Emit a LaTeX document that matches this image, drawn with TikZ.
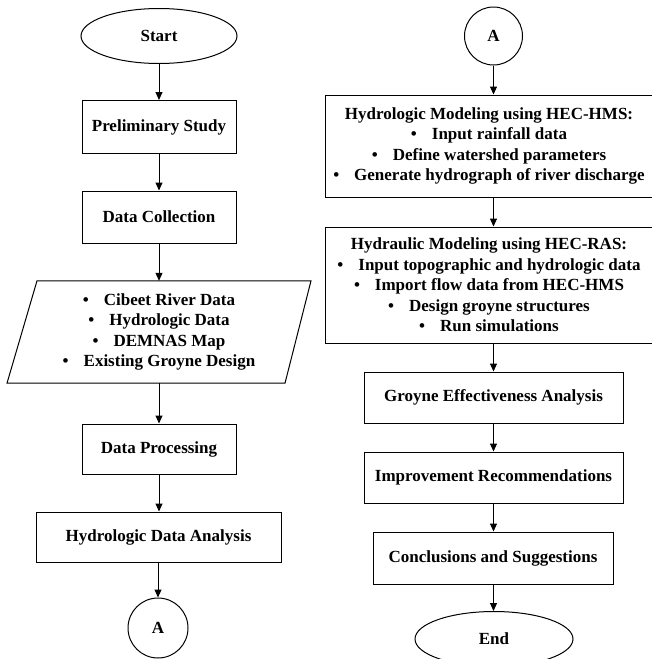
\documentclass[tikz,border=0pt]{standalone}
\usepackage{fontspec}
\setmainfont{Liberation Serif}
\usetikzlibrary{shapes.geometric,arrows.meta,calc}
\newcommand{\fcbul}{\textbullet\hspace{15pt}}
\begin{document}
\begin{tikzpicture}[x=1pt,y=-1pt,
  every node/.style={font=\fontsize{17}{20.5}\selectfont\bfseries, align=center, inner sep=0pt},
  box/.style={draw, line width=1pt, rectangle, minimum width=#1},
  box/.default=154pt,
  term/.style={draw, line width=1pt, ellipse, minimum width=156pt, minimum height=55pt},
  conn/.style={draw, line width=1pt, circle, minimum size=#1},
  arr/.style={line width=1pt, -{Triangle[length=8pt,width=7pt]}}]
\useasboundingbox (0,0) rectangle (652,659);
% left column
\node[term] (start) at (159,36) {Start};
\node[box, minimum height=53pt] (prelim) at (159,127) {Preliminary Study};
\node[box, minimum height=52pt] (coll) at (159,217) {Data Collection};
\node[minimum width=250pt, minimum height=102pt] (data) at (159,332)
  {\fcbul Cibeet River Data\\ \fcbul Hydrologic Data\\ \fcbul DEMNAS Map\\ \fcbul Existing Groyne Design};
\draw[line width=1pt] ($(data.north)+(-122pt,0)$) -- ($(data.north)+(152pt,0)$)
  -- ($(data.south)+(126pt,0)$) -- ($(data.south)+(-152pt,0)$) -- cycle;
\node[box, minimum height=50pt] (proc) at (159,449) {Data Processing};
\node[box=245pt, minimum height=50pt] (hda) at (158.5,537) {Hydrologic Data Analysis};
\node[conn=60pt] (a1) at (158,628) {A};
\draw[arr] (start) -- (prelim);
\draw[arr] (prelim) -- (coll);
\draw[arr] (coll) -- (data);
\draw[arr] (data) -- (proc);
\draw[arr] (proc) -- (hda.north -| proc);
\draw[arr] (hda.south -| a1) -- (a1);
% right column
\node[conn=58pt] (a2) at (493.5,36) {A};
\node[box=328pt, minimum height=102pt] (hms) at (489,146)
  {Hydrologic Modeling using HEC-HMS:\\ \fcbul Input rainfall data\\ \fcbul Define watershed parameters\\ \fcbul Generate hydrograph of river discharge};
\node[box=328pt, minimum height=116pt] (ras) at (489,285)
  {Hydraulic Modeling using HEC-RAS:\\ \fcbul Input topographic and hydrologic data\\ \fcbul Import flow data from HEC-HMS\\ \fcbul Design groyne structures\\ \fcbul Run simulations};
\node[box=259pt, minimum height=51pt] (gea) at (493.5,397.5) {Groyne Effectiveness Analysis};
\node[box=259pt, minimum height=51pt] (imp) at (493.5,477.5) {Improvement Recommendations};
\node[box=240pt, minimum height=52pt] (con) at (493,558) {Conclusions and Suggestions};
\node[term, minimum width=158pt] (end) at (494,639) {End};
\draw[arr] (a2) -- (a2 |- hms.north);
\draw[arr] (hms.south -| a2) -- (ras.north -| a2);
\draw[arr] (ras.south -| a2) -- (gea.north -| a2);
\draw[arr] (gea.south -| a2) -- (imp.north -| a2);
\draw[arr] (imp.south -| a2) -- (con.north -| a2);
\draw[arr] (con.south -| a2) -- (end.north -| a2);
\end{tikzpicture}
\end{document}
